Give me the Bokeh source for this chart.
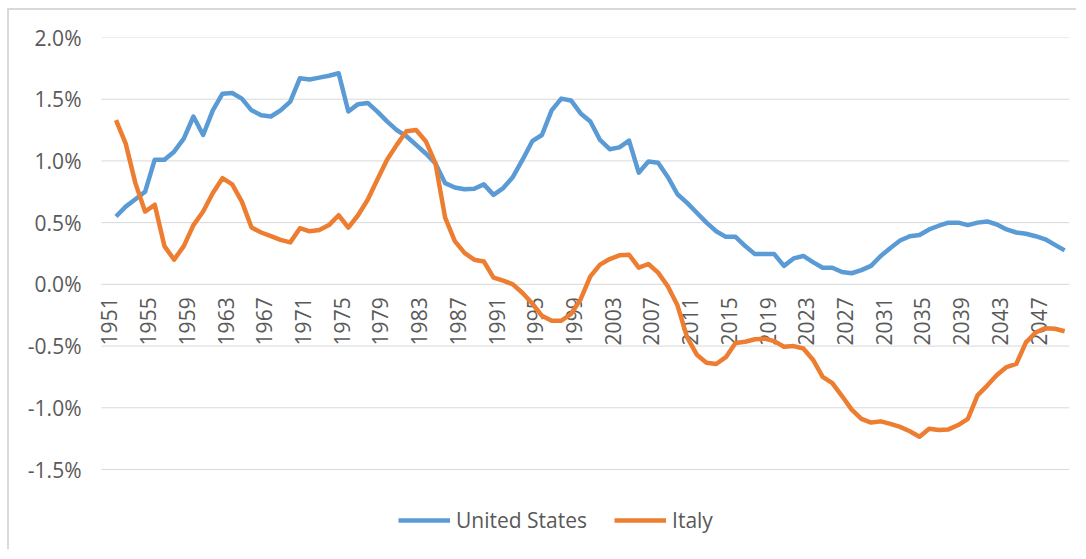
import math
from bokeh.plotting import figure
from bokeh.models import (Range1d, FixedTicker, PrintfTickFormatter, Legend, LegendItem,
                          ColumnDataSource)
from bokeh.core.properties import value
from bokeh.embed import file_html
from bokeh.resources import INLINE

years = list(range(1952, 2051))

united_states = [
    0.55, 0.63, 0.69, 0.75, 1.01, 1.01, 1.075, 1.18, 1.36, 1.21,
    1.41, 1.545, 1.55, 1.505, 1.41, 1.37, 1.36, 1.41, 1.48, 1.67,
    1.66, 1.675, 1.69, 1.71, 1.40, 1.46, 1.47, 1.40, 1.32, 1.25,
    1.20, 1.13, 1.06, 0.98, 0.82, 0.785, 0.77, 0.775, 0.81, 0.725,
    0.78, 0.87, 1.01, 1.16, 1.21, 1.41, 1.505, 1.49, 1.385, 1.32,
    1.17, 1.095, 1.11, 1.165, 0.905, 0.995, 0.985, 0.87, 0.73, 0.66,
    0.58, 0.50, 0.43, 0.385, 0.385, 0.31, 0.245, 0.245, 0.245, 0.15,
    0.21, 0.23, 0.18, 0.135, 0.135, 0.10, 0.09, 0.115, 0.15, 0.23,
    0.295, 0.355, 0.39, 0.40, 0.445, 0.475, 0.50, 0.50, 0.48, 0.50,
    0.51, 0.485, 0.445, 0.42, 0.41, 0.39, 0.365, 0.32, 0.275,
]

italy = [
    1.33, 1.14, 0.82, 0.59, 0.645, 0.31, 0.20, 0.31, 0.48, 0.59,
    0.74, 0.86, 0.81, 0.67, 0.46, 0.42, 0.39, 0.36, 0.34, 0.455,
    0.43, 0.44, 0.48, 0.56, 0.46, 0.56, 0.685, 0.85, 1.01, 1.13,
    1.24, 1.25, 1.16, 0.98, 0.54, 0.35, 0.255, 0.20, 0.185, 0.055,
    0.03, 0.0, -0.07, -0.155, -0.255, -0.295, -0.295, -0.24, -0.12, 0.065,
    0.16, 0.205, 0.235, 0.24, 0.135, 0.165, 0.095, -0.015, -0.17, -0.43,
    -0.57, -0.635, -0.645, -0.59, -0.475, -0.465, -0.445, -0.44, -0.46, -0.505,
    -0.50, -0.52, -0.61, -0.75, -0.80, -0.905, -1.015, -1.09, -1.12, -1.11,
    -1.13, -1.155, -1.19, -1.235, -1.17, -1.18, -1.175, -1.14, -1.09, -0.90,
    -0.82, -0.735, -0.67, -0.645, -0.47, -0.39, -0.355, -0.36, -0.38,
]

x_tick_years = list(range(1951, 2051, 4))
x_tick_labels = [str(y) for y in x_tick_years]
y_ticks = [-1.5, -1.0, -0.5, 0.0, 0.5, 1.0, 1.5, 2.0]

FONT = "Open Sans"
GREY = "#595959"
GRID = "#d9d9d9"

# category range (one slot per year) and value range
X_START, X_END = 1950.5, 2050.5
PX_PER_YEAR = 9.68
PX_PER_UNIT = 432 / 3.5
EXTRA_LEFT_PX = 8      # room for the first rotated label
EXTRA_BOTTOM_PX = 82   # room for the legend
x_range = Range1d(X_START - EXTRA_LEFT_PX / PX_PER_YEAR, X_END)
y_range = Range1d(y_ticks[0] - EXTRA_BOTTOM_PX / PX_PER_UNIT, y_ticks[-1])

# canvas sits inside a bordered box at (7, 8); border 2px -> canvas origin at (9, 10)
p = figure(width=1069, height=541, output_backend="svg", toolbar_location=None,
           x_range=x_range, y_range=y_range,
           min_border_left=84, min_border_right=9, min_border_top=27, min_border_bottom=0,
           styles={"margin-left": "7px", "margin-top": "8px",
                   "border-left": "2px solid #d9d9d9", "border-top": "2px solid #d9d9d9"})

p.outline_line_color = None
p.xaxis.visible = False
p.xgrid.visible = False
p.ygrid.visible = False

# horizontal gridlines over the category span only
p.segment(x0=[X_START] * len(y_ticks), x1=[X_END] * len(y_ticks), y0=y_ticks, y1=y_ticks,
          line_color=GRID, line_width=1)

p.yaxis.ticker = FixedTicker(ticks=y_ticks)
p.yaxis.formatter = PrintfTickFormatter(format="%.1f%%")
p.yaxis.axis_line_color = None
p.yaxis.major_tick_line_color = None
p.yaxis.major_tick_out = 0
p.yaxis.major_tick_in = 0
p.yaxis.minor_tick_line_color = None
p.yaxis.major_label_standoff = 12
p.yaxis.major_label_text_font = FONT
p.yaxis.major_label_text_font_size = "21px"
p.yaxis.major_label_text_color = GREY

# category labels at the zero line, rotated
lab_src = ColumnDataSource(dict(x=x_tick_years, y=[0.0] * len(x_tick_years), t=x_tick_labels))
p.text(x="x", y="y", text="t", source=lab_src, angle=math.pi / 2,
       text_align="right", text_baseline="middle", y_offset=13, x_offset=3,
       text_font=value(FONT), text_font_size="21px", text_color=GREY)

r_us = p.line(years, united_states, line_color="#5B9BD5", line_width=4.5, line_join="round")
r_it = p.line(years, italy, line_color="#ED7D31", line_width=4.5, line_join="round")

legend = Legend(items=[LegendItem(label="United States", renderers=[r_us]),
                       LegendItem(label="Italy", renderers=[r_it])],
                orientation="horizontal", location=(305, 17),
                border_line_color=None, background_fill_alpha=0,
                label_text_font=FONT, label_text_font_size="21px", label_text_color=GREY,
                glyph_width=52, label_standoff=6, spacing=27, padding=0, margin=0)
p.add_layout(legend, "center")

open("out.html", "w").write(file_html(p, INLINE))
